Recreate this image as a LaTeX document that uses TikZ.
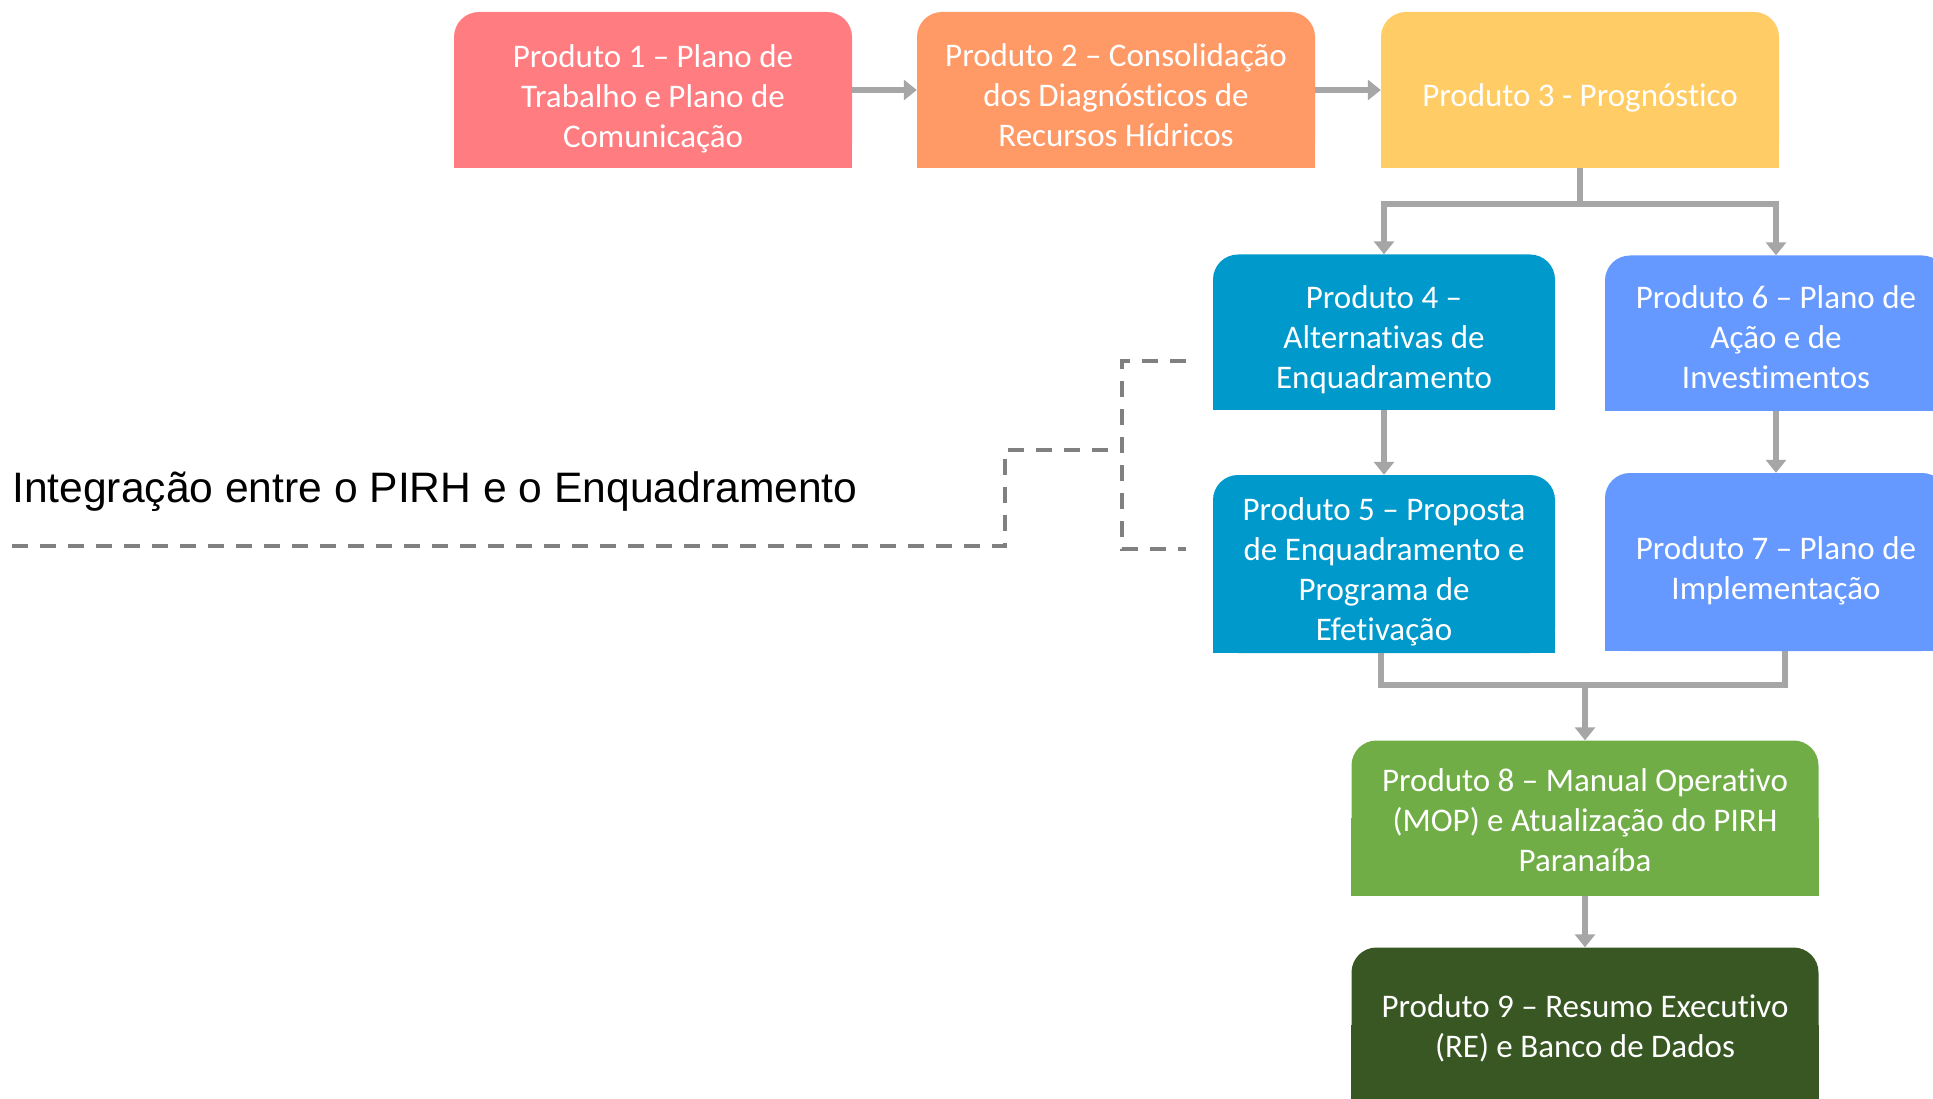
\documentclass[tikz,border=0pt]{standalone}
\usepackage{fontspec}
\setmainfont{Carlito}[Ligatures=NoCommon]
\newfontfamily\arialfont{Liberation Sans}
\usetikzlibrary{arrows.meta}
\pgfdeclarelayer{bg}
\pgfsetlayers{bg,main}
\definecolor{cone}{HTML}{FF7C80}
\definecolor{ctwo}{HTML}{FF9966}
\definecolor{cthree}{HTML}{FFCC66}
\definecolor{cfour}{HTML}{0099CC}
\definecolor{csix}{HTML}{6699FF}
\definecolor{ceight}{HTML}{70AD47}
\definecolor{cnine}{HTML}{385723}
\definecolor{arrowgray}{HTML}{A6A6A6}
\definecolor{dashgray}{HTML}{808080}
\newcommand\sqbottom[2]{\begin{pgfonlayer}{bg}\fill[#2] (#1.west) rectangle (#1.south east);\end{pgfonlayer}}
\newcommand\txtdrop[1]{\rule{0pt}{#1}}
\begin{document}
\begin{tikzpicture}[x=1pt,y=-1pt,
  prodbox/.style={inner sep=0pt, align=center, text=white,
    font=\fontsize{33}{40}\selectfont, rounded corners=25pt},
  wideA/.style={minimum width=398pt, minimum height=156pt},
  wideB/.style={minimum width=342pt},
  wideC/.style={minimum width=467pt, minimum height=155pt},
  conn/.style={draw=arrowgray, line width=6pt, -{Triangle[width=20pt,length=13pt]}},
  plainconn/.style={draw=arrowgray, line width=6pt},
  dashline/.style={draw=dashgray, line width=3.5pt, dash pattern=on 16pt off 12pt}]
\useasboundingbox (0,0) rectangle (1933,1099);
\clip (0,0) rectangle (1933,1099);

% top row
\node[prodbox, wideA, fill=cone] (b1) at (653,90) {\txtdrop{40pt}Produto 1 – Plano de\\Trabalho e Plano de\\Comunicação};
\node[prodbox, wideA, fill=ctwo] (b2) at (1116,90) {\txtdrop{34pt}Produto 2 – Consolidação\\dos Diagnósticos de\\Recursos Hídricos};
\node[prodbox, wideA, fill=cthree] (b3) at (1580,90) {\txtdrop{38pt}Produto 3 - Prognóstico};
\sqbottom{b1}{cone}
\sqbottom{b2}{ctwo}
\sqbottom{b3}{cthree}

% middle
\node[prodbox, wideB, minimum height=155pt, fill=cfour] (b4) at (1384,332) {\txtdrop{38pt}Produto 4 –\\Alternativas de\\Enquadramento};
\node[prodbox, wideB, minimum height=155pt, fill=csix] (b6) at (1776,333) {\txtdrop{31pt}Produto 6 – Plano de\\Ação e de\\Investimentos};
\node[prodbox, wideB, minimum height=178pt, fill=cfour] (b5) at (1384,564) {\txtdrop{38pt}Produto 5 – Proposta\\de Enquadramento e\\Programa de\\Efetivação};
\node[prodbox, wideB, minimum height=178pt, fill=csix] (b7) at (1776,562) {\txtdrop{40pt}Produto 7 – Plano de\\Implementação};
\sqbottom{b4}{cfour}
\sqbottom{b6}{csix}
\sqbottom{b5}{cfour}
\sqbottom{b7}{csix}

% bottom
\node[prodbox, wideC, fill=ceight] (b8) at (1585,818) {\txtdrop{28pt}Produto 8 – Manual Operativo\\(MOP) e Atualização do PIRH\\Paranaíba};
\node[prodbox, wideC, fill=cnine] (b9) at (1585,1025) {\txtdrop{30pt}Produto 9 – Resumo Executivo\\(RE) e Banco de Dados};
\sqbottom{b8}{ceight}
\sqbottom{b9}{cnine}

% connectors
\draw[conn] (b1.east) -- (b2.west);
\draw[conn] (b2.east) -- (b3.west);
\coordinate (split) at (1580,204);
\draw[plainconn] (b3.south) -- (split);
\draw[conn] (split) -| (b4.north);
\draw[conn] (split) -| (b6.north);
\draw[conn] (b4.south) -- (b5.north);
\draw[conn] (b6.south) -- (b7.north);
\coordinate (join) at (1585,685);
\draw[plainconn] ([xshift=-3pt]b5.south) |- (join);
\draw[plainconn] ([xshift=9pt]b7.south) |- (join);
\draw[conn] (join) -- (b8.north);
\draw[conn] (b8.south) -- (b9.north);

% label and dashed bracket
\node[anchor=west, inner sep=0pt, font=\arialfont\fontsize{42.6}{50}\selectfont] (lbl) at (12,492) {Integração entre o PIRH e o Enquadramento};
\coordinate (d0) at (12,546);
\coordinate (d1) at (1005,546);
\coordinate (d2) at (1005,450);
\coordinate (d3) at (1122,450);
\coordinate (e0) at (1186,361);
\coordinate (e1) at (1122,361);
\coordinate (e2) at (1122,549);
\coordinate (e3) at (1186,549);
\draw[dashline] (d0) -- (d1) -- (d2) -- (d3);
\draw[dashline] (e0) -- (e1) -- (e2) -- (e3);
\end{tikzpicture}
\end{document}
